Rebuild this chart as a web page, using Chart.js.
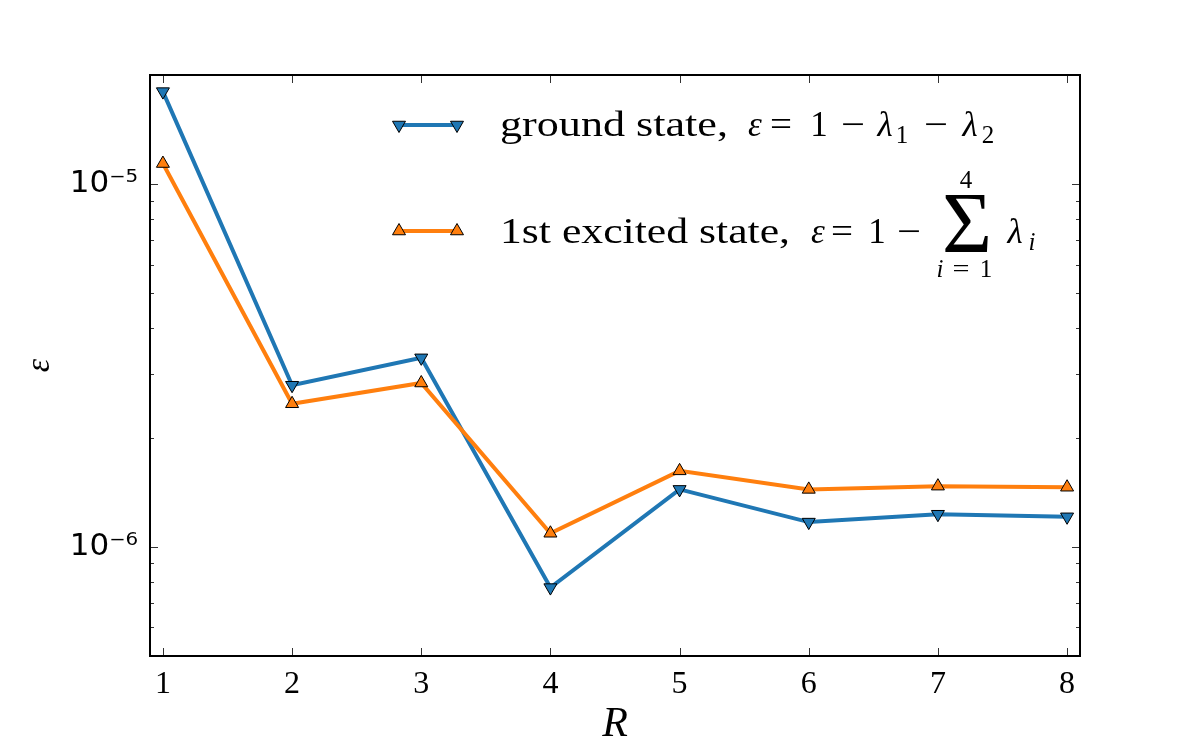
<!DOCTYPE html>
<html>
<head>
<meta charset="utf-8">
<script src="https://cdn.jsdelivr.net/npm/chart.js@4.4.0/dist/chart.umd.min.js"></script>
<style>
html, body { margin: 0; padding: 0; background: #fff; }
</style>
</head>
<body>
<canvas id="chart" width="1200" height="750"></canvas>
<script>
// R values and the two error curves
const rValues = [1, 2, 3, 4, 5, 6, 7, 8];
const groundState = [1.80e-5, 2.79e-6, 3.32e-6, 7.72e-7, 1.44e-6, 1.17e-6, 1.23e-6, 1.21e-6];
const excitedState = [1.14e-5, 2.48e-6, 2.83e-6, 1.09e-6, 1.62e-6, 1.44e-6, 1.47e-6, 1.46e-6];

const xTicks = [1, 2, 3, 4, 5, 6, 7, 8];
const yMajor = [1e-6, 1e-5];
const yMinor = [5e-7, 6e-7, 7e-7, 8e-7, 9e-7, 2e-6, 3e-6, 4e-6, 5e-6, 6e-6, 7e-6, 8e-6, 9e-6, 2e-5];
const yTickLabels = ['10\u207B\u2076', '10\u207B\u2075'];

const BLUE = '#1f77b4';
const ORANGE = '#ff7f0e';
const SERIF = '"Liberation Serif", "DejaVu Serif", serif';

function pts(ys) {
  return rValues.map((r, i) => ({ x: r, y: ys[i] }));
}

function triangle(ctx, x, y, r, down, fill) {
  ctx.save();
  ctx.translate(x, y);
  if (down) ctx.rotate(Math.PI);
  ctx.beginPath();
  for (let k = 0; k < 3; k++) {
    const a = k * 2 * Math.PI / 3;
    const px = Math.sin(a) * r, py = -Math.cos(a) * r;
    if (k == 0) ctx.moveTo(px, py); else ctx.lineTo(px, py);
  }
  ctx.closePath();
  ctx.fillStyle = fill;
  ctx.fill();
  ctx.lineWidth = 1;
  ctx.strokeStyle = '#000';
  ctx.stroke();
  ctx.restore();
}

// text piece centred at cx; if w is given the glyphs are stretched to that width
function piece(ctx, s, cx, y, font, w) {
  ctx.save();
  ctx.font = font;
  ctx.textAlign = 'center';
  let sx = 1;
  if (w) sx = w / ctx.measureText(s).width;
  ctx.translate(cx, y);
  ctx.scale(sx, 1);
  ctx.fillText(s, 0, 0);
  ctx.restore();
}

// frame + inward ticks (matplotlib classic look) + legend
const framePlugin = {
  id: 'frame',
  afterDraw(chart) {
    const ctx = chart.ctx;
    const a = chart.chartArea;
    const xs = chart.scales.x, ys = chart.scales.y;
    ctx.save();
    ctx.strokeStyle = '#333';
    ctx.lineWidth = 1;
    ctx.beginPath();
    xTicks.forEach(v => {
      const px = Math.round(xs.getPixelForValue(v)) + 0.5;
      ctx.moveTo(px, a.bottom); ctx.lineTo(px, a.bottom - 8);
      ctx.moveTo(px, a.top); ctx.lineTo(px, a.top + 8);
    });
    yMajor.forEach(v => {
      const py = Math.round(ys.getPixelForValue(v)) + 0.5;
      ctx.moveTo(a.left, py); ctx.lineTo(a.left + 8, py);
      ctx.moveTo(a.right, py); ctx.lineTo(a.right - 8, py);
    });
    yMinor.forEach(v => {
      const py = Math.round(ys.getPixelForValue(v)) + 0.5;
      ctx.moveTo(a.left, py); ctx.lineTo(a.left + 4, py);
      ctx.moveTo(a.right, py); ctx.lineTo(a.right - 4, py);
    });
    ctx.stroke();
    ctx.strokeStyle = '#000';
    ctx.lineWidth = 2;
    ctx.strokeRect(a.left, a.top, a.right - a.left, a.bottom - a.top);

    // legend handles
    const rows = [{ y: 125, color: BLUE, down: true }, { y: 231, color: ORANGE, down: false }];
    rows.forEach(r => {
      ctx.strokeStyle = r.color;
      ctx.lineWidth = 4;
      ctx.beginPath();
      ctx.moveTo(399, r.y); ctx.lineTo(457, r.y);
      ctx.stroke();
      triangle(ctx, 399, r.y, 7.5, r.down, r.color);
      triangle(ctx, 457, r.y, 7.5, r.down, r.color);
    });

    ctx.fillStyle = '#000';
    ctx.textBaseline = 'alphabetic';
    const up = '35px ' + SERIF, it = 'italic 35px ' + SERIF;
    const sub = '25px ' + SERIF, subIt = 'italic 25px ' + SERIF;

    // row 1: ground state, eps = 1 - l1 - l2
    let b = 136;
    piece(ctx, 'ground state,', 500 + 114, b, up, 228);
    piece(ctx, '\u03B5', 755, b, it);
    piece(ctx, '=', 781, b, up, 22);
    piece(ctx, '1', 819, b, up);
    piece(ctx, '\u2212', 853, b, up, 24);
    piece(ctx, '\u03BB', 885, b, it);
    piece(ctx, '1', 902, b + 7, sub);
    piece(ctx, '\u2212', 936, b, up, 24);
    piece(ctx, '\u03BB', 970, b, it);
    piece(ctx, '2', 988, b + 7, sub);

    // row 2: 1st excited state, eps = 1 - sum_{i=1}^4 l_i
    b = 243;
    piece(ctx, '1st excited state,', 500 + 145, b, up, 290);
    piece(ctx, '\u03B5', 818, b, it);
    piece(ctx, '=', 842, b, up, 22);
    piece(ctx, '1', 877, b, up);
    piece(ctx, '\u2212', 909, b, up, 24);
    piece(ctx, '\u03A3', 967, 252, '86px ' + SERIF);
    piece(ctx, '4', 966, 188, sub);
    piece(ctx, 'i', 940, 277, subIt);
    piece(ctx, '=', 961, 277, sub, 17);
    piece(ctx, '1', 986, 277, sub);
    piece(ctx, '\u03BB', 1015, b, it);
    piece(ctx, 'i', 1032, b + 7, subIt);
    ctx.restore();
  }
};

const chart = new Chart(document.getElementById('chart'), {
  type: 'line',
  data: {
    datasets: [
      {
        label: 'ground state',
        data: pts(groundState),
        borderColor: BLUE,
        backgroundColor: BLUE,
        borderWidth: 4,
        pointStyle: 'triangle',
        pointRotation: 180,
        pointRadius: 7.5,
        pointBackgroundColor: BLUE,
        pointBorderColor: '#000',
        pointBorderWidth: 1,
        tension: 0,
        order: 2
      },
      {
        label: '1st excited state',
        data: pts(excitedState),
        borderColor: ORANGE,
        backgroundColor: ORANGE,
        borderWidth: 4,
        pointStyle: 'triangle',
        pointRadius: 7.5,
        pointBackgroundColor: ORANGE,
        pointBorderColor: '#000',
        pointBorderWidth: 1,
        tension: 0,
        order: 1
      }
    ]
  },
  options: {
    responsive: false,
    animation: false,
    layout: { padding: { left: 0, right: 120, top: 75, bottom: 0 } },
    plugins: {
      legend: { display: false },
      tooltip: { enabled: false }
    },
    scales: {
      x: {
        type: 'linear',
        min: 0.9,
        max: 8.1,
        afterBuildTicks: s => { s.ticks = xTicks.map(v => ({ value: v })); },
        afterFit: s => { s.height = 94; },
        grid: { display: false, drawTicks: false },
        border: { display: false },
        ticks: { color: '#000', padding: 9, font: { family: SERIF, size: 32 } },
        title: {
          display: true, text: 'R', color: '#000',
          font: { family: SERIF, size: 42, style: 'italic' },
          padding: { top: 0, bottom: 0 }
        }
      },
      y: {
        type: 'logarithmic',
        min: 5e-7,
        max: 2e-5,
        afterBuildTicks: s => { s.ticks = yMajor.map(v => ({ value: v })); },
        afterFit: s => { s.width = 150; },
        grid: { display: false, drawTicks: false },
        border: { display: false },
        ticks: {
          color: '#000', padding: 12,
          font: { family: '"DejaVu Sans", sans-serif', size: 31 },
          callback: v => yTickLabels[yMajor.indexOf(v)] || ''
        },
        title: {
          display: true, text: '\u03B5', color: '#000',
          font: { family: SERIF, size: 34, style: 'italic' },
          padding: { top: 20, bottom: 0 }
        }
      }
    }
  },
  plugins: [framePlugin]
});
</script>
</body>
</html>
